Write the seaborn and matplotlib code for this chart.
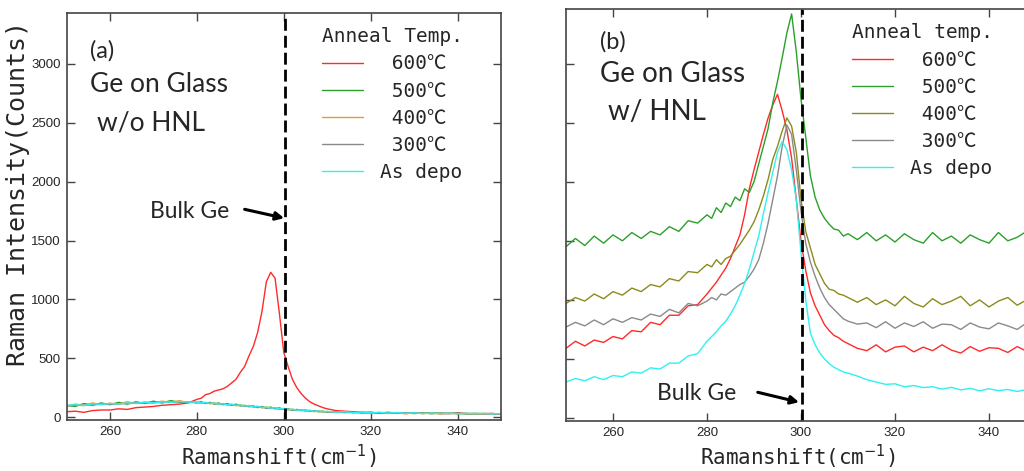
import matplotlib
matplotlib.use("Agg")
import matplotlib.pyplot as plt
import seaborn as sns
import pandas as pd
from matplotlib.font_manager import FontProperties

# ---------------- data ----------------
shift = [250, 252, 254, 256, 258, 260, 262, 264, 266, 268, 270, 272, 274, 276, 278,
         280, 281, 282, 283, 284, 285, 286, 287, 288, 289, 290, 291, 292, 293, 294,
         295, 296, 297, 298, 299, 300, 301, 302, 303, 304, 305, 306, 307, 308, 309, 310,
         312, 314, 316, 318, 320, 322, 324, 326, 328, 330, 332, 334, 336, 338, 340,
         342, 344, 346, 348, 350]

labels = [" 600℃", " 500℃", " 400℃", " 300℃", "As depo"]

# panel (a): Ge on glass w/o HNL
a_600 = [45, 50, 40, 55, 60, 60, 70, 65, 80, 85, 90, 100, 105, 110, 120,
         150, 160, 190, 200, 220, 230, 240, 260, 290, 320, 380, 430, 520, 600, 720,
         900, 1150, 1230, 1180, 880, 550, 430, 320, 250, 200, 160, 130, 110, 95, 80, 70,
         55, 50, 45, 40, 40, 35, 40, 35, 30, 35, 30, 35, 30, 30, 35, 30, 25, 30, 30, 25]
a_500 = [100, 90, 115, 100, 120, 105, 125, 110, 130, 115, 135, 120, 140, 125, 130,
         120, 130, 115, 125, 110, 120, 105, 115, 100, 110, 95, 100, 88, 95, 80,
         90, 75, 85, 70, 78, 65, 70, 58, 65, 55, 60, 50, 55, 45, 50, 42,
         45, 38, 42, 35, 40, 33, 38, 32, 36, 30, 35, 28, 34, 30, 33, 27, 32, 28, 30, 25]
a_400 = [90, 110, 100, 120, 105, 118, 110, 130, 115, 128, 120, 135, 125, 140, 122,
         128, 118, 125, 112, 122, 108, 115, 102, 110, 96, 105, 90, 98, 85, 92,
         78, 86, 72, 80, 66, 74, 60, 68, 55, 62, 50, 58, 45, 52, 42, 48,
         38, 44, 35, 42, 32, 40, 30, 38, 28, 36, 30, 35, 26, 34, 28, 32, 25, 30, 27, 24]
a_300 = [95, 100, 98, 105, 108, 110, 112, 115, 118, 120, 122, 124, 126, 128, 126,
         124, 121, 119, 117, 114, 111, 109, 106, 103, 100, 97, 94, 91, 88, 85,
         82, 79, 76, 73, 70, 67, 64, 61, 59, 57, 54, 52, 50, 48, 46, 44,
         42, 40, 39, 38, 37, 36, 35, 34, 34, 33, 32, 32, 31, 31, 30, 30, 29, 29, 28, 28]
a_dep = [100, 105, 98, 112, 108, 115, 112, 120, 118, 125, 122, 128, 125, 132, 128,
         126, 120, 124, 116, 118, 110, 114, 106, 108, 100, 102, 94, 96, 88, 90,
         82, 84, 76, 78, 70, 72, 64, 66, 58, 60, 54, 56, 50, 52, 46, 48,
         42, 44, 38, 42, 36, 40, 34, 38, 32, 36, 30, 34, 30, 33, 28, 32, 28, 31, 27, 30]

# panel (b): Ge on glass w/ HNL
b_600 = [590, 650, 610, 660, 640, 690, 670, 740, 730, 810, 790, 870, 870, 950, 960,
         1050, 1100, 1150, 1210, 1270, 1350, 1450, 1550, 1720, 1940, 2100, 2250, 2400, 2540, 2650,
         2740, 2600, 2440, 2200, 1850, 1500, 1250, 1060, 950, 870, 790, 740, 700, 680, 650, 630,
         590, 570, 620, 560, 600, 610, 560, 600, 570, 620, 575, 550, 605, 565, 595, 590, 555, 605, 565, 580]
b_500 = [1450, 1520, 1460, 1540, 1480, 1550, 1500, 1570, 1520, 1580, 1550, 1620, 1580, 1670, 1650,
         1720, 1690, 1780, 1740, 1820, 1790, 1870, 1840, 1940, 1910, 2000, 2150, 2300, 2450, 2670,
         2850, 3050, 3260, 3420, 3100, 2700, 2380, 2050, 1870, 1760, 1690, 1640, 1600, 1590, 1540, 1560,
         1510, 1570, 1500, 1550, 1490, 1560, 1510, 1480, 1570, 1500, 1540, 1480, 1550, 1510, 1480, 1570, 1500, 1530, 1580, 1480]
b_400 = [970, 1020, 990, 1050, 1010, 1070, 1040, 1100, 1070, 1130, 1110, 1180, 1160, 1240, 1230,
         1300, 1280, 1340, 1300, 1350, 1370, 1420, 1470, 1530, 1590, 1660, 1760, 1880, 2020, 2190,
         2300, 2430, 2540, 2470, 2250, 1850, 1580, 1440, 1300, 1220, 1140, 1090, 1080, 1050, 1040, 1020,
         980, 1020, 960, 1000, 950, 1030, 970, 940, 1010, 960, 990, 1030, 950, 1000, 940, 990, 1020, 955, 1000, 965]
b_300 = [770, 810, 780, 830, 790, 840, 810, 850, 830, 880, 860, 920, 890, 970, 950,
         990, 1020, 1000, 1050, 1040, 1070, 1100, 1130, 1150, 1200, 1260, 1340, 1480, 1650, 1850,
         2050, 2300, 2480, 2400, 2100, 1750, 1480, 1320, 1200, 1100, 1020, 960, 920, 880, 840, 820,
         795, 805, 765, 815, 760, 805, 775, 815, 760, 795, 790, 750, 805, 770, 755, 805, 780, 750, 805, 770]
b_dep = [305, 335, 315, 350, 325, 360, 350, 390, 380, 425, 415, 465, 465, 525, 545,
         650, 690, 730, 780, 820, 880, 950, 1040, 1140, 1260, 1400, 1540, 1730, 1910, 2080,
         2250, 2340, 2270, 2100, 1850, 1400, 1000, 720, 620, 550, 500, 460, 430, 410, 390, 380,
         355, 325, 305, 285, 290, 265, 275, 258, 265, 245, 260, 238, 252, 230, 248, 232, 242, 225, 242, 228]

bulk_ge = 300.3
yticks = [0, 500, 1000, 1500, 2000, 2500, 3000]
xticks = [260, 280, 300, 320, 340]

colors_a = ["#ff2a2a", "#2aa02a", "#e0a030", "#8a8a8a", "#30f0f0"]
colors_b = ["#ff2a2a", "#2aa02a", "#8c8a1e", "#8a8a8a", "#30f0f0"]

# ---------------- style ----------------
sns.set_style("ticks")
plt.rcParams["font.family"] = ["Liberation Sans Narrow", "Liberation Sans", "DejaVu Sans"]
plt.rcParams["axes.edgecolor"] = "#444444"
plt.rcParams["axes.linewidth"] = 1.2

mono = ["DejaVu Sans Mono", "Noto Sans CJK JP"]
leg_font = FontProperties(family=mono, size=14)
xlab_font = FontProperties(family=mono, size=15)
ylab_font = FontProperties(family=mono, size=18)
ann = ["Lato", "DejaVu Sans"]

fig = plt.figure(figsize=(10.24, 4.71), dpi=100)
ax_a = fig.add_axes([66.5 / 1024, 1 - 420 / 471, 434.5 / 1024, 407 / 471])
ax_b = fig.add_axes([566 / 1024, 1 - 421 / 471, 470 / 1024, 412 / 471])


def draw(ax, series, colors, ylim, title, anchor):
    for s, c, lab in zip(series, colors, labels):
        sns.lineplot(x=shift, y=s, color=c, lw=1.0, ax=ax, label=lab, sort=False)
    ax.axvline(bulk_ge, color="black", lw=2.0, ls=(0, (4.3, 1.8)))
    ax.set_xlim(250, 350)
    ax.set_ylim(*ylim)
    ax.set_xticks(xticks)
    ax.set_yticks(yticks)
    ax.tick_params(direction="in", length=6, width=1.0, color="#444444",
                   top=True, right=True, labelsize=9.5, pad=4)
    ax.set_xlabel("Ramanshift(cm$^{-1}$)", fontproperties=xlab_font)
    ax.legend(title=title, frameon=False, prop=leg_font,
              title_fontproperties=leg_font, loc="upper left",
              bbox_to_anchor=anchor, bbox_transform=ax.transAxes,
              alignment="left", handlelength=2.1, handletextpad=0.9,
              labelspacing=0.42, borderpad=0, borderaxespad=0)


draw(ax_a, [a_600, a_500, a_400, a_300, a_dep], colors_a, (-25, 3433),
     "Anneal Temp.", (0.588, 0.965))
ax_a.set_ylabel("Raman Intensity(Counts)", fontproperties=ylab_font)
ax_a.yaxis.set_label_coords(-0.084, 0.557)
ax_a.xaxis.set_label_coords(0.49, -0.056)

draw(ax_b, [b_600, b_500, b_400, b_300, b_dep], colors_b, (-25, 3462),
     "Anneal temp.", (0.608, 0.965))
ax_b.set_yticklabels([])
ax_b.set_ylabel("")
ax_b.xaxis.set_label_coords(0.494, -0.052)

# annotations
ax_a.text(0.054, 0.89, "(a)", transform=ax_a.transAxes, family=ann, fontsize=17)
ax_a.text(0.054, 0.806, "Ge on Glass", transform=ax_a.transAxes, family=ann, fontsize=19)
ax_a.text(0.070, 0.7125, "w/o HNL", transform=ax_a.transAxes, family=ann, fontsize=19)
ax_a.text(0.192, 0.496, "Bulk Ge", transform=ax_a.transAxes, family=ann, fontsize=16.5)
ax_a.annotate("", xy=(300.1, 1690), xytext=(291.0, 1765),
              arrowprops=dict(arrowstyle="-|>", lw=2.2, color="black",
                              mutation_scale=12, shrinkA=0, shrinkB=0))

ax_b.text(0.072, 0.905, "(b)", transform=ax_b.transAxes, family=ann, fontsize=17)
ax_b.text(0.072, 0.823, "Ge on Glass", transform=ax_b.transAxes, family=ann, fontsize=20)
ax_b.text(0.089, 0.73, "w/ HNL", transform=ax_b.transAxes, family=ann, fontsize=20)
ax_b.text(0.194, 0.051, "Bulk Ge", transform=ax_b.transAxes, family=ann, fontsize=16.5)
ax_b.annotate("", xy=(299.6, 134), xytext=(290.8, 218),
              arrowprops=dict(arrowstyle="-|>", lw=2.2, color="black",
                              mutation_scale=12, shrinkA=0, shrinkB=0))

fig.savefig("out.png", dpi=100)
